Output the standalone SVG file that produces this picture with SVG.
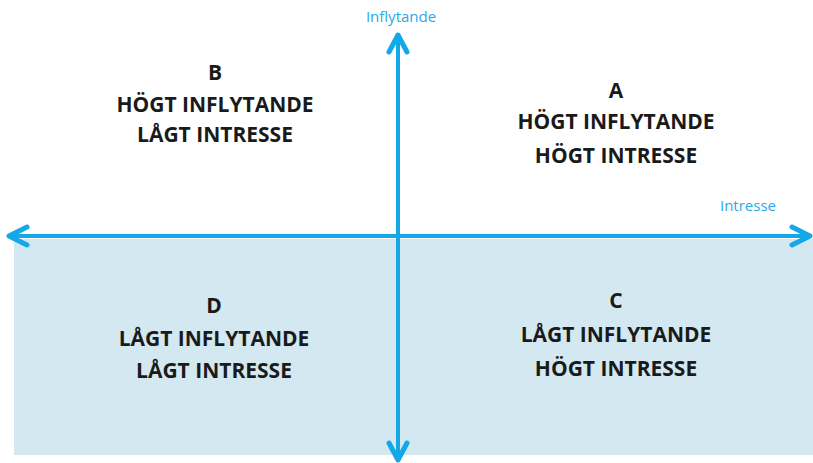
<svg xmlns="http://www.w3.org/2000/svg" width="813" height="463" viewBox="0 0 813 463">
<style>
.q{font-family:"Open Sans","Liberation Sans",sans-serif;font-weight:bold;font-size:21px;fill:#1a1a1a;text-anchor:middle}
.ax{stroke:#14a8e8;stroke-width:4;fill:none;stroke-linecap:round;stroke-linejoin:round}
.ah{stroke:#14a8e8;stroke-width:5;fill:none;stroke-linecap:round;stroke-linejoin:round}
.lb{font-family:"Open Sans","Liberation Sans",sans-serif;font-size:15px;fill:#2aa9e6;text-anchor:middle}
</style>
<rect width="813" height="463" fill="#ffffff"/>
<rect x="14" y="239" width="799" height="216" fill="#d3e8f0"/>
<g id="connectors">
<line class="ax" x1="9" y1="236" x2="810" y2="236"/>
<line class="ax" x1="398" y1="35" x2="398" y2="460"/>
<polyline class="ah" points="27,227 9,236 27,245"/>
<polyline class="ah" points="792,227 810,236 792,245"/>
<polyline class="ah" points="389,52 398,35 407,52"/>
<polyline class="ah" points="389,443 398,460 407,443"/>
</g>
<g id="label-inflytande"><text class="lb" x="401" y="22">Inflytande</text></g>
<g id="label-intresse"><text class="lb" x="748" y="211">Intresse</text></g>
<g id="node-b">
<text class="q" x="215" y="80">B</text>
<text class="q" x="215" y="112">HÖGT INFLYTANDE</text>
<text class="q" x="215" y="142">LÅGT INTRESSE</text>
</g>
<g id="node-a">
<text class="q" x="616" y="98">A</text>
<text class="q" x="616" y="129">HÖGT INFLYTANDE</text>
<text class="q" x="616" y="163">HÖGT INTRESSE</text>
</g>
<g id="node-d">
<text class="q" x="214" y="313">D</text>
<text class="q" x="214" y="346">LÅGT INFLYTANDE</text>
<text class="q" x="214" y="378">LÅGT INTRESSE</text>
</g>
<g id="node-c">
<text class="q" x="616" y="308">C</text>
<text class="q" x="616" y="342">LÅGT INFLYTANDE</text>
<text class="q" x="616" y="376">HÖGT INTRESSE</text>
</g>
</svg>
